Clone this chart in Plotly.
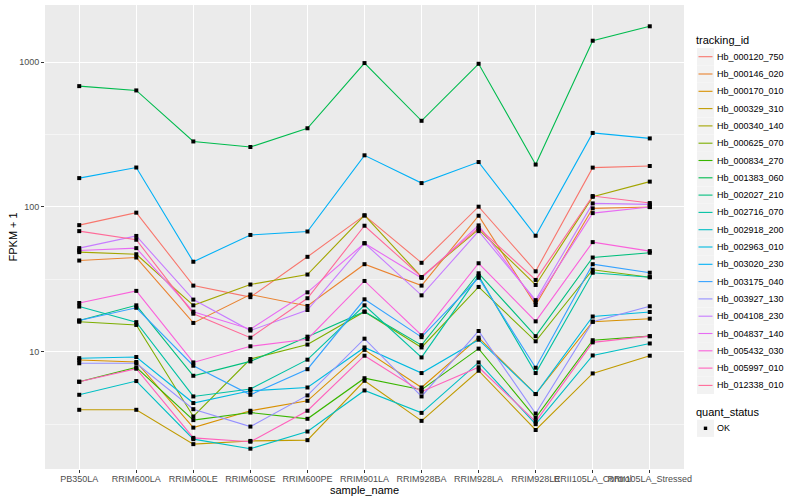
import plotly.graph_objects as go

samples = ["PB350LA", "RRIM600LA", "RRIM600LE", "RRIM600SE", "RRIM600PE", "RRIM901LA",
           "RRIM928BA", "RRIM928LA", "RRIM928LE", "RRII105LA_Control", "RRII105LA_Stressed"]

tracking_ids = ["Hb_000120_750", "Hb_000146_020", "Hb_000170_010", "Hb_000329_310", "Hb_000340_140",
                "Hb_000625_070", "Hb_000834_270", "Hb_001383_060", "Hb_002027_210", "Hb_002716_070",
                "Hb_002918_200", "Hb_002963_010", "Hb_003020_230", "Hb_003175_040", "Hb_003927_130",
                "Hb_004108_230", "Hb_004837_140", "Hb_005432_030", "Hb_005997_010", "Hb_012338_010"]

colors = ["#F8766D", "#EA8331", "#D89000", "#C09B00", "#A3A500", "#7CAE00", "#39B600", "#00BB4E",
          "#00BF7D", "#00C1A3", "#00BFC4", "#00BAE0", "#00B0F6", "#35A2FF", "#9590FF", "#C77CFF",
          "#E76BF3", "#FA62DB", "#FF62BC", "#FF6A98"]

quant_status = ["OK"]

Hb_000120_750 = [74.8, 91.2, 28.6, 23.8, 45.2, 87.3, 41.1, 100.3, 35.9, 186.7, 191.6]
Hb_000146_020 = [42.6, 44.7, 15.8, 24.8, 20.7, 40.2, 28.6, 86.9, 21.0, 97.7, 99.7]
Hb_000170_010 = [8.77, 8.49, 2.99, 3.91, 4.58, 10.3, 5.66, 12.5, 5.10, 16.1, 16.9]
Hb_000329_310 = [3.97, 3.97, 2.30, 2.42, 2.45, 6.30, 3.33, 7.39, 2.88, 7.08, 9.38]
Hb_000340_140 = [48.7, 47.1, 20.9, 29.1, 34.1, 87.3, 32.8, 69.9, 28.9, 117.3, 149.4]
Hb_000625_070 = [16.1, 15.3, 3.57, 8.90, 11.2, 18.9, 10.7, 28.0, 11.8, 36.8, 32.7]
Hb_000834_270 = [6.20, 7.79, 3.37, 3.80, 3.44, 6.56, 5.46, 10.5, 3.49, 12.0, 12.8]
Hb_001383_060 = [682, 637, 283, 259, 349, 984, 393, 973, 196, 1404, 1766]
Hb_002027_210 = [16.4, 20.9, 6.82, 8.57, 12.7, 18.9, 11.1, 34.8, 12.8, 44.7, 48.2]
Hb_002716_070 = [20.5, 16.0, 4.91, 5.52, 8.81, 20.9, 9.13, 33.4, 7.12, 35.1, 32.7]
Hb_002918_200 = [5.04, 6.27, 2.49, 2.14, 2.81, 5.40, 3.78, 8.43, 3.16, 9.42, 11.4]
Hb_002963_010 = [9.02, 9.19, 4.42, 5.37, 5.66, 10.7, 7.12, 12.1, 5.10, 17.5, 18.8]
Hb_003020_230 = [158, 187, 41.8, 64, 67.6, 227, 146, 204, 63.2, 324, 297]
Hb_003175_040 = [16.4, 20.1, 8.00, 5.04, 7.57, 23.0, 12.6, 32.4, 7.75, 40.2, 35.1]
Hb_003927_130 = [8.32, 8.32, 4.01, 3.04, 4.99, 12.3, 4.91, 13.9, 3.74, 16.1, 20.6]
Hb_004108_230 = [51.9, 63.0, 22.9, 14.0, 19.4, 56.1, 24.5, 68.0, 22.7, 105.7, 104.0]
Hb_004837_140 = [50.0, 51.9, 18.9, 14.3, 25.7, 56.1, 32.3, 74.5, 22.0, 90.6, 99.7]
Hb_005432_030 = [21.7, 26.3, 8.43, 10.9, 12.2, 30.8, 13.0, 40.8, 16.2, 57.1, 49.5]
Hb_005997_010 = [6.20, 7.63, 2.54, 2.39, 3.91, 9.38, 5.29, 7.81, 3.29, 11.6, 12.8]
Hb_012338_010 = [68.0, 59.3, 18.3, 12.5, 23.4, 74.1, 32.8, 71.6, 31.3, 118.8, 106.3]

series = [Hb_000120_750, Hb_000146_020, Hb_000170_010, Hb_000329_310, Hb_000340_140,
          Hb_000625_070, Hb_000834_270, Hb_001383_060, Hb_002027_210, Hb_002716_070,
          Hb_002918_200, Hb_002963_010, Hb_003020_230, Hb_003175_040, Hb_003927_130,
          Hb_004108_230, Hb_004837_140, Hb_005432_030, Hb_005997_010, Hb_012338_010]

y_ticks = [10, 100, 1000]
y_tick_text = ["10", "100", "1000"]
y_minor = [3.1623, 31.623, 316.23]

fig = go.Figure()
for name, vals, col in zip(tracking_ids, series, colors):
    fig.add_trace(go.Scatter(x=samples, y=vals, mode="lines", name=name,
                             line=dict(color=col, width=1.1), showlegend=False,
                             hoverinfo="skip"))

all_x, all_y = [], []
for vals in series:
    all_x += samples
    all_y += vals
fig.add_trace(go.Scatter(x=all_x, y=all_y, mode="markers", name=quant_status[0], showlegend=False,
                         marker=dict(symbol="square", size=4, color="black"),
                         hoverinfo="skip"))

# plot panel in pixels: x 45..684, y 5..469
L, R, T, B = 45, 684, 5, 469
def px(x):
    return (x - L) / (R - L)
def py(y):
    return (B - y) / (B - T)

font = "Liberation Sans, Arial, sans-serif"
shapes, annotations = [], []

# axis titles
annotations.append(dict(xref="paper", yref="paper", x=px(364), y=py(489.5), text="sample_name",
                        showarrow=False, xanchor="center", yanchor="middle",
                        font=dict(size=11, color="black", family=font)))
annotations.append(dict(xref="paper", yref="paper", x=px(12.5), y=py(237), text="FPKM + 1",
                        showarrow=False, xanchor="center", yanchor="middle", textangle=-90,
                        font=dict(size=11, color="black", family=font)))

# manual legend: tracking_id
annotations.append(dict(xref="paper", yref="paper", x=px(694.5), y=py(40.5), text="tracking_id",
                        showarrow=False, xanchor="left", yanchor="middle",
                        font=dict(size=11, color="black", family=font)))
for i, (name, col) in enumerate(zip(tracking_ids, colors)):
    cy = 56.7 + i * 17.3
    shapes.append(dict(type="rect", xref="paper", yref="paper", x0=px(697), x1=px(714),
                       y0=py(cy - 8.6), y1=py(cy + 8.6), fillcolor="#F2F2F2", line=dict(width=0),
                       layer="below"))
    shapes.append(dict(type="line", xref="paper", yref="paper", x0=px(698.5), x1=px(712.5),
                       y0=py(cy), y1=py(cy), line=dict(color=col, width=1.1)))
    annotations.append(dict(xref="paper", yref="paper", x=px(715), y=py(cy), text=name,
                            showarrow=False, xanchor="left", yanchor="middle",
                            font=dict(size=9, color="black", family=font)))

# manual legend: quant_status
annotations.append(dict(xref="paper", yref="paper", x=px(694.5), y=py(411.5), text="quant_status",
                        showarrow=False, xanchor="left", yanchor="middle",
                        font=dict(size=11, color="black", family=font)))
cy = 428.3
shapes.append(dict(type="rect", xref="paper", yref="paper", x0=px(697), x1=px(714),
                   y0=py(cy - 8.6), y1=py(cy + 8.6), fillcolor="#F2F2F2", line=dict(width=0),
                   layer="below"))
shapes.append(dict(type="rect", xref="paper", yref="paper", x0=px(703.8), x1=px(707.2),
                   y0=py(cy - 1.7), y1=py(cy + 1.7), fillcolor="black", line=dict(width=0)))
annotations.append(dict(xref="paper", yref="paper", x=px(715), y=py(cy), text=quant_status[0],
                        showarrow=False, xanchor="left", yanchor="middle",
                        font=dict(size=9, color="black", family=font)))

fig.update_layout(
    width=800, height=500,
    margin=dict(l=L, r=800 - R, t=T, b=500 - B, autoexpand=False),
    paper_bgcolor="white", plot_bgcolor="#EBEBEB",
    font=dict(family=font, color="black", size=11),
    showlegend=False,
    shapes=shapes, annotations=annotations,
    xaxis=dict(
        type="category", categoryorder="array", categoryarray=samples,
        range=[-0.6, 10.6], tickangle=0, automargin=False,
        showgrid=True, gridcolor="white", gridwidth=1.1,
        ticks="outside", ticklen=3, tickcolor="#333333", tickwidth=1,
        ticklabelstandoff=-2,
        tickfont=dict(size=9, color="#4D4D4D"),
        zeroline=False, showline=False,
    ),
    yaxis=dict(
        type="log", range=[0.19, 3.394], automargin=False,
        tickvals=y_ticks, ticktext=y_tick_text,
        showgrid=True, gridcolor="white", gridwidth=1.1,
        minor=dict(tickvals=y_minor, showgrid=True, gridcolor="#F5F5F5", gridwidth=0.6, ticks=""),
        ticks="outside", ticklen=3, tickcolor="#333333", tickwidth=1,
        tickfont=dict(size=9, color="#4D4D4D"),
        zeroline=False, showline=False,
    ),
)

fig.write_html("out.html", config={"displayModeBar": False},
               post_script="document.body.style.margin='0px';")
